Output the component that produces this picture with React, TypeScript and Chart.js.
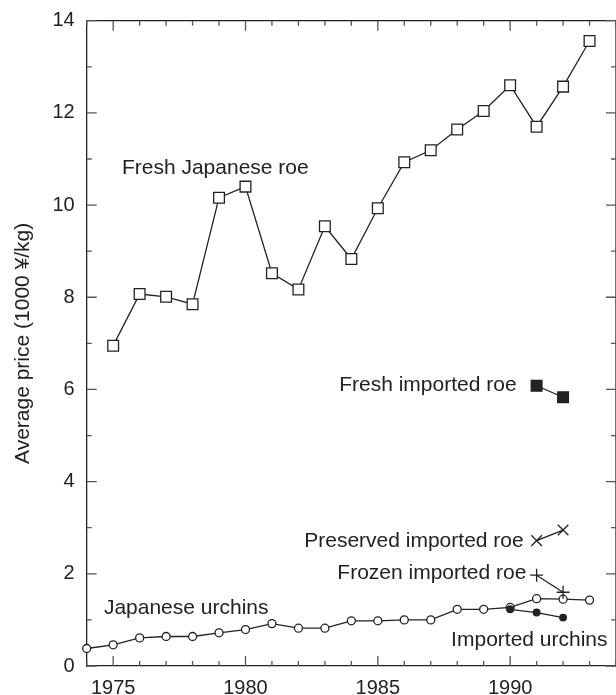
import React, { useEffect, useRef } from 'react';
import { Chart, registerables } from 'chart.js';

Chart.register(...registerables);

// ---- Data ----
const freshJapaneseRoeYears = [1975, 1976, 1977, 1978, 1979, 1980, 1981, 1982, 1983, 1984, 1985, 1986, 1987, 1988, 1989, 1990, 1991, 1992, 1993];
const freshJapaneseRoe = [6.95, 8.07, 8.01, 7.85, 10.16, 10.4, 8.52, 8.17, 9.54, 8.83, 9.93, 10.93, 11.19, 11.64, 12.04, 12.6, 11.7, 12.57, 13.56];

const japaneseUrchinYears = [1974, 1975, 1976, 1977, 1978, 1979, 1980, 1981, 1982, 1983, 1984, 1985, 1986, 1987, 1988, 1989, 1990, 1991, 1992, 1993];
const japaneseUrchins = [0.38, 0.46, 0.61, 0.64, 0.64, 0.72, 0.79, 0.92, 0.82, 0.82, 0.98, 0.98, 1.0, 1.0, 1.23, 1.23, 1.27, 1.46, 1.45, 1.43];

const importedUrchinYears = [1990, 1991, 1992];
const importedUrchins = [1.23, 1.16, 1.05];

const importedRoeYears = [1991, 1992];
const freshImportedRoe = [6.08, 5.83];
const preservedImportedRoe = [2.72, 2.95];
const frozenImportedRoe = [1.97, 1.6];

const xTickLabels = [1975, 1980, 1985, 1990];
const yTickLabels = [0, 2, 4, 6, 8, 10, 12, 14];
const yAxisTitle = 'Average price (1000 ¥/kg)';

const seriesLabels = ['Fresh Japanese roe', 'Fresh imported roe', 'Preserved imported roe', 'Frozen imported roe', 'Japanese urchins', 'Imported urchins'];
// label anchors in data units (year, value) – left edge / text baseline
const labelYears = [1975.33, 1983.54, 1982.22, 1983.47, 1974.65, 1987.77];
const labelValues = [10.67, 5.97, 2.59, 1.88, 1.12, 0.43];

const FONT = "'Liberation Sans', Arial, Helvetica, sans-serif";
const INK = '#222';

const pts = (xs: number[], ys: number[]) => xs.map((x, i) => ({ x, y: ys[i] }));

const framePlugin = {
  id: 'frameAndLabels',
  afterDraw(chart: any) {
    const { ctx, chartArea: a, scales } = chart;
    const xs = scales.x;
    const ys = scales.y;
    ctx.save();
    // frame top/right
    ctx.strokeStyle = INK;
    ctx.lineWidth = 1.3;
    ctx.beginPath();
    ctx.moveTo(a.left, a.top);
    ctx.lineTo(a.right, a.top);
    ctx.lineTo(a.right, a.bottom);
    ctx.stroke();
    // inward ticks
    ctx.strokeStyle = '#555';
    ctx.lineWidth = 1.3;
    ctx.beginPath();
    xs.ticks.forEach((t: any) => {
      const px = xs.getPixelForValue(t.value);
      const len = t.value % 5 === 0 ? 10 : 5;
      ctx.moveTo(px, a.bottom);
      ctx.lineTo(px, a.bottom - len);
      ctx.moveTo(px, a.top);
      ctx.lineTo(px, a.top + len);
    });
    ys.ticks.forEach((t: any) => {
      const py = ys.getPixelForValue(t.value);
      const len = t.value % 2 === 0 ? 10 : 5;
      ctx.moveTo(a.left, py);
      ctx.lineTo(a.left + len, py);
      ctx.moveTo(a.right, py);
      ctx.lineTo(a.right - len, py);
    });
    ctx.stroke();
    // series labels
    ctx.fillStyle = INK;
    ctx.font = `21px ${FONT}`;
    ctx.textAlign = 'left';
    ctx.textBaseline = 'alphabetic';
    seriesLabels.forEach((s, i) => {
      ctx.fillText(s, xs.getPixelForValue(labelYears[i]), ys.getPixelForValue(labelValues[i]));
    });
    ctx.restore();
  },
};

export default function App() {
  const ref = useRef<HTMLCanvasElement | null>(null);

  useEffect(() => {
    if (!ref.current) return;
    const common = {
      borderColor: INK,
      borderWidth: 1.3,
      pointBorderColor: INK,
      pointBorderWidth: 1.3,
      tension: 0,
      fill: false,
    };
    const chart = new Chart(ref.current, {
      type: 'line',
      data: {
        datasets: [
          {
            ...common,
            label: seriesLabels[0],
            data: pts(freshJapaneseRoeYears, freshJapaneseRoe),
            pointStyle: 'rect',
            pointRadius: 7.6,
            pointBackgroundColor: '#fff',
            order: 3,
          },
          {
            ...common,
            label: seriesLabels[1],
            data: pts(importedRoeYears, freshImportedRoe),
            pointStyle: 'rect',
            pointRadius: 7.6,
            pointBackgroundColor: INK,
            order: 3,
          },
          {
            ...common,
            label: seriesLabels[2],
            data: pts(importedRoeYears, preservedImportedRoe),
            pointStyle: 'crossRot',
            pointRadius: 7.5,
            pointBackgroundColor: INK,
            order: 3,
          },
          {
            ...common,
            label: seriesLabels[3],
            data: pts(importedRoeYears, frozenImportedRoe),
            pointStyle: 'cross',
            pointRadius: 6.5,
            pointBackgroundColor: INK,
            order: 0,
          },
          {
            ...common,
            label: seriesLabels[4],
            data: pts(japaneseUrchinYears, japaneseUrchins),
            pointStyle: 'circle',
            pointRadius: 4,
            pointBackgroundColor: '#fff',
            order: 2,
          },
          {
            ...common,
            label: seriesLabels[5],
            data: pts(importedUrchinYears, importedUrchins),
            pointStyle: 'circle',
            pointRadius: 3.3,
            pointBackgroundColor: INK,
            order: 1,
          },
        ],
      },
      options: {
        animation: false,
        responsive: false,
        maintainAspectRatio: false,
        clip: false,
        layout: { autoPadding: false, padding: { left: 0, top: 20.7, right: -2, bottom: 0 } },
        plugins: { legend: { display: false }, tooltip: { enabled: false } },
        scales: {
          x: {
            type: 'linear',
            min: 1974,
            max: 1994,
            afterFit: (s: any) => {
              s.height = 29;
              s.paddingLeft = 0;
              s.paddingRight = -2;
            },
            grid: { display: false, drawTicks: false },
            border: { display: true, color: INK, width: 1.3 },
            ticks: {
              stepSize: 1,
              autoSkip: false,
              maxRotation: 0,
              padding: 10,
              color: INK,
              font: { family: FONT, size: 20 },
              callback: (v: any) => (xTickLabels.includes(Number(v)) ? String(v) : ''),
            },
          },
          y: {
            type: 'linear',
            min: 0,
            max: 14,
            afterFit: (s: any) => {
              s.width = 86.7;
              s.paddingTop = 0;
              s.paddingBottom = 0;
            },
            grid: { display: false, drawTicks: false },
            border: { display: true, color: INK, width: 1.3 },
            ticks: {
              stepSize: 1,
              autoSkip: false,
              padding: 12,
              color: INK,
              font: { family: FONT, size: 20 },
              callback: (v: any) => (yTickLabels.includes(Number(v)) ? String(v) : ''),
            },
            title: {
              display: true,
              text: yAxisTitle,
              color: INK,
              font: { family: FONT, size: 21 },
              padding: { top: 10.4, bottom: 0 },
            },
          },
        },
      },
      plugins: [framePlugin],
    } as any);
    return () => chart.destroy();
  }, []);

  return (
    <div style={{ position: 'absolute', left: 0, top: 0, width: 616, height: 695, background: '#fff' }}>
      <canvas ref={ref} width={616} height={695} style={{ display: 'block' }} />
    </div>
  );
}
